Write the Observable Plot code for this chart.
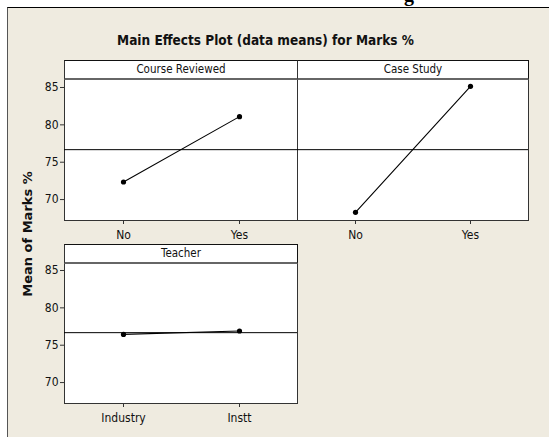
<!DOCTYPE html>
<html>
<head>
<meta charset="utf-8">
<script src="https://cdn.jsdelivr.net/npm/d3@7"></script>
<script src="https://cdn.jsdelivr.net/npm/@observablehq/plot@0.6"></script>
<style>
  html, body { margin: 0; padding: 0; background: #ffffff; }
  #root { position: relative; width: 549px; height: 437px; overflow: hidden; background: #ffffff; }
  #bg { position: absolute; left: 7px; top: 7px; width: 542px; height: 430px; background: #efebe0;
        border-top: 1.5px solid #000; border-left: 1px solid #555; box-sizing: border-box; }
  .abs { position: absolute; }
  #title { left: 0; width: 531px; top: 32px; line-height: 16px; text-align: center;
           font-family: "DejaVu Sans Condensed", "DejaVu Sans", sans-serif; font-weight: bold; font-size: 13.5px; color: #111; }
  #ylab { left: -72px; width: 200px; top: 226px; line-height: 16px; text-align: center; transform: rotate(-90deg);
          font-family: "DejaVu Sans", sans-serif; font-weight: bold; font-size: 13px; color: #111; }
  .strip { position: absolute; box-sizing: border-box; background: #fff; border-top: 1.5px solid #111;
           border-left: 1px solid #333; border-right: 1px solid #111; border-bottom: 2px solid #666;
           font-family: "DejaVu Sans Condensed", "DejaVu Sans", sans-serif; font-size: 11.5px; color: #111;
           text-align: center; line-height: 16px; }
  #clip { left: 380px; top: 0; width: 60px; height: 6px; overflow: hidden; }
  #clip span { position: absolute; left: 24px; top: -17px; font-family: "Liberation Serif", serif; font-weight: bold; font-size: 20px; color: #000; }
</style>
</head>
<body>
<div id="root">
  <div id="clip" class="abs"><span>g</span></div>
  <div id="bg"></div>
  <div id="title" class="abs">Main Effects Plot (data means) for Marks %</div>
  <div id="ylab" class="abs">Mean of Marks %</div>
</div>
<script>
// ---- data ----
const factors = ["Course Reviewed", "Case Study", "Teacher"];
const levelsCourse = ["No", "Yes"];
const meansCourse = [72.35, 81.1];
const levelsCase = ["No", "Yes"];
const meansCase = [68.3, 85.15];
const levelsTeacher = ["Industry", "Instt"];
const meansTeacher = [76.45, 76.9];
const grandMean = 76.68;
const yTicks = [70, 75, 80, 85];
const yDomain = [67.2, 86.07];

const root = document.getElementById("root");
const FONT = '"DejaVu Sans Condensed", "DejaVu Sans", sans-serif';

function panel(levels, means, showY, left, top, plotW) {
  const data = levels.map((l, i) => ({level: l, mean: means[i]}));
  const mL = showY ? 44 : 1;
  const chart = Plot.plot({
    width: mL + plotW + 1,
    height: 1 + 141 + 30,
    marginLeft: mL,
    marginRight: 1,
    marginTop: 1,
    marginBottom: 30,
    x: {type: "point", domain: levels, padding: 0.5, label: null, axis: null},
    y: {domain: yDomain, label: null, axis: null},
    style: {background: "transparent", fontFamily: FONT, fontSize: "12px", color: "#111", overflow: "visible"},
    marks: [
      Plot.frame({fill: "#fff", stroke: "#333", strokeWidth: 1}),
      Plot.ruleY([grandMean], {stroke: "#000", strokeWidth: 1}),
      Plot.line(data, {x: "level", y: "mean", stroke: "#000", strokeWidth: 1.1}),
      Plot.dot(data, {x: "level", y: "mean", r: 2.6, fill: "#000", stroke: "none"}),
      Plot.axisX({tickSize: 4, tickPadding: 6, stroke: "#333", label: null}),
      showY ? Plot.axisY({ticks: yTicks, tickSize: 4, tickPadding: 2, stroke: "#333", label: null}) : null
    ]
  });
  chart.style.position = "absolute";
  chart.style.left = left + "px";
  chart.style.top = top + "px";
  root.appendChild(chart);
}

panel(levelsCourse, meansCourse, true, 20, 78, 233);
panel(levelsCase, meansCase, false, 296, 78, 231);
panel(levelsTeacher, meansTeacher, true, 20, 261, 233);

function strip(label, left, top, w) {
  const d = document.createElement("div");
  d.className = "strip";
  d.style.left = left + "px";
  d.style.top = top + "px";
  d.style.width = w + "px";
  d.style.height = "20px";
  d.textContent = label;
  root.appendChild(d);
}
strip(factors[0], 64, 60, 234);
strip(factors[1], 297, 60, 232);
strip(factors[2], 64, 243.5, 234);
</script>
</body>
</html>
